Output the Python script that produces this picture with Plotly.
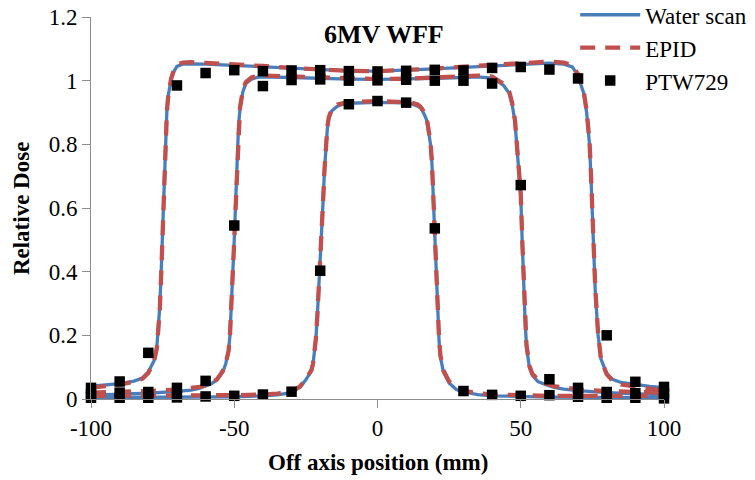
import plotly.graph_objects as go

# ---------------- data ----------------
# Large field (about 150 mm)
large_x = [-100, -95, -90, -85, -82, -80, -78, -77, -76, -75.5, -75, -74.5, -74, -73.5, -73, -72, -71, -70,
           -68, -65, -60, -50, -40, -30, -20, -10, 0, 10, 20, 30, 40, 50, 60, 65, 68, 70, 71, 72, 73, 74,
           74.5, 75, 75.5, 76, 77, 78, 80, 82, 85, 90, 95, 100]
large_water = [0.040, 0.043, 0.048, 0.056, 0.066, 0.085, 0.120, 0.165, 0.290, 0.400, 0.520, 0.660, 0.820,
               0.910, 0.955, 1.005, 1.030, 1.045, 1.052, 1.053, 1.052, 1.048, 1.043, 1.038, 1.034, 1.031,
               1.030, 1.033, 1.037, 1.042, 1.047, 1.051, 1.055, 1.052, 1.043, 1.015, 0.990, 0.960, 0.900,
               0.800, 0.700, 0.580, 0.460, 0.340, 0.200, 0.125, 0.080, 0.062, 0.052, 0.045, 0.040, 0.036]
large_epid = [0.036, 0.040, 0.045, 0.054, 0.064, 0.082, 0.118, 0.160, 0.280, 0.390, 0.510, 0.650, 0.810,
              0.905, 0.955, 1.008, 1.035, 1.050, 1.057, 1.058, 1.056, 1.052, 1.046, 1.040, 1.035, 1.031,
              1.030, 1.033, 1.038, 1.044, 1.050, 1.055, 1.060, 1.057, 1.048, 1.020, 0.995, 0.965, 0.905,
              0.810, 0.710, 0.590, 0.470, 0.350, 0.205, 0.125, 0.078, 0.058, 0.046, 0.038, 0.032, 0.028]

# Medium field (about 100 mm)
medium_x = [-100, -90, -80, -70, -65, -62, -60, -58, -56, -54, -53, -52, -51.5, -51, -50.5, -50, -49.5, -49,
            -48.5, -48, -47, -46, -44, -42, -40, -30, -20, -10, 0, 10, 20, 30, 35, 40, 42, 44, 46, 47, 48,
            48.5, 49, 49.5, 50, 50.5, 51, 51.5, 52, 53, 54, 56, 59, 62, 65, 70, 80, 90, 100]
medium_water = [0.012, 0.014, 0.018, 0.024, 0.028, 0.034, 0.040, 0.048, 0.060, 0.085, 0.110, 0.150, 0.200,
                0.280, 0.400, 0.500, 0.620, 0.760, 0.860, 0.910, 0.965, 0.990, 1.005, 1.010, 1.012, 1.010,
                1.007, 1.005, 1.004, 1.005, 1.007, 1.010, 1.012, 1.008, 0.998, 0.985, 0.960, 0.925, 0.870,
                0.810, 0.740, 0.690, 0.640, 0.500, 0.360, 0.250, 0.165, 0.100, 0.075, 0.055, 0.044, 0.036,
                0.031, 0.026, 0.020, 0.016, 0.013]
medium_epid = [0.020, 0.022, 0.025, 0.030, 0.033, 0.038, 0.043, 0.050, 0.062, 0.088, 0.112, 0.150, 0.200,
               0.280, 0.400, 0.500, 0.620, 0.760, 0.860, 0.915, 0.970, 0.995, 1.010, 1.015, 1.016, 1.013,
               1.009, 1.006, 1.005, 1.006, 1.009, 1.013, 1.016, 1.013, 1.003, 0.990, 0.965, 0.930, 0.875,
               0.815, 0.745, 0.695, 0.645, 0.505, 0.365, 0.255, 0.170, 0.105, 0.080, 0.060, 0.048, 0.040,
               0.035, 0.030, 0.025, 0.022, 0.020]

# Small field (about 40 mm)
small_x = [-100, -80, -60, -50, -40, -35, -30, -27, -25, -23, -22.5, -21.5, -21, -20.5, -20, -19.5, -19,
           -18.5, -18, -17.5, -17, -16, -14, -12, -10, 0, 10, 12, 14, 15, 16, 17, 17.5, 18, 18.5, 19, 19.5,
           20, 20.5, 21, 21.5, 22, 23, 25, 27.5, 30, 35, 40, 50, 60, 80, 100]
small_water = [0.004, 0.005, 0.006, 0.007, 0.010, 0.013, 0.020, 0.038, 0.060, 0.090, 0.110, 0.190, 0.260,
               0.340, 0.420, 0.520, 0.620, 0.720, 0.800, 0.850, 0.880, 0.905, 0.920, 0.926, 0.929, 0.932,
               0.930, 0.927, 0.920, 0.915, 0.900, 0.880, 0.860, 0.830, 0.800, 0.740, 0.620, 0.500, 0.380,
               0.250, 0.180, 0.130, 0.085, 0.050, 0.030, 0.022, 0.014, 0.010, 0.007, 0.006, 0.005, 0.004]
small_epid = [0.010, 0.010, 0.011, 0.012, 0.014, 0.017, 0.024, 0.040, 0.062, 0.092, 0.112, 0.190, 0.260,
              0.340, 0.420, 0.520, 0.620, 0.720, 0.800, 0.855, 0.885, 0.910, 0.925, 0.930, 0.933, 0.936,
              0.934, 0.931, 0.925, 0.918, 0.905, 0.885, 0.865, 0.835, 0.805, 0.745, 0.625, 0.505, 0.385,
              0.255, 0.185, 0.135, 0.090, 0.055, 0.034, 0.026, 0.018, 0.014, 0.011, 0.010, 0.010, 0.010]

# PTW729 array measurements (every 10 mm)
ptw_x = [-100, -90, -80, -70, -60, -50, -40, -30, -20, -10, 0, 10, 20, 30, 40, 50, 60, 70, 80, 90, 100]
ptw_large = [0.035, 0.055, 0.145, 0.985, 1.024, 1.033, 1.030, 1.032, 1.033, 1.030, 1.029, 1.031, 1.034,
             1.032, 1.040, 1.043, 1.035, 1.007, 0.200, 0.054, 0.038]
ptw_medium = [0.015, 0.020, 0.022, 0.035, 0.057, 0.545, 0.983, 1.002, 1.004, 1.000, 1.001, 1.003, 1.000,
              1.000, 0.991, 0.672, 0.062, 0.035, 0.022, 0.018, 0.018]
ptw_small = [0.004, 0.004, 0.004, 0.005, 0.008, 0.010, 0.014, 0.023, 0.403, 0.926, 0.936, 0.931, 0.536,
             0.025, 0.013, 0.010, 0.012, 0.007, 0.004, 0.004, 0.002]

x_ticks = [-100, -50, 0, 50, 100]
x_tick_text = ["-100", "-50", "0", "50", "100"]
y_ticks = [0, 0.2, 0.4, 0.6, 0.8, 1.0, 1.2]
y_tick_text = ["0", "0.2", "0.4", "0.6", "0.8", "1", "1.2"]

# ---------------- styling ----------------
BLUE = "#4A7EBB"
RED = "#C0504D"
FONT = "Liberation Serif, Times New Roman, serif"
AXIS_GREY = "#8C8C8C"

fig = go.Figure()

fields = [(large_x, large_water, large_epid), (medium_x, medium_water, medium_epid),
          (small_x, small_water, small_epid)]

for i, (fx, fw, fe) in enumerate(fields):
    fig.add_trace(go.Scatter(x=fx, y=fw, mode="lines", name="Water scan",
                             line=dict(color=BLUE, width=3.3), showlegend=(i == 0),
                             cliponaxis=False))
for i, (fx, fw, fe) in enumerate(fields):
    fig.add_trace(go.Scatter(x=fx, y=fe, mode="lines", name="EPID",
                             line=dict(color=RED, width=4.3, dash="15px,10px"), showlegend=(i == 0),
                             cliponaxis=False))
for i, py in enumerate([ptw_large, ptw_medium, ptw_small]):
    fig.add_trace(go.Scatter(x=ptw_x, y=py, mode="markers", name="PTW729",
                             marker=dict(symbol="square", size=10.5, color="black"),
                             showlegend=(i == 0), cliponaxis=False))

fig.update_layout(
    width=755, height=480,
    margin=dict(l=91, r=91, t=17, b=81, autoexpand=False),
    paper_bgcolor="white", plot_bgcolor="white",
    font=dict(family=FONT, size=23, color="black"),
    showlegend=True,
    legend=dict(x=0.845, y=1.062, xanchor="left", yanchor="top",
                bgcolor="rgba(0,0,0,0)", font=dict(family=FONT, size=23, color="black"),
                itemwidth=60, tracegroupgap=0),
    xaxis=dict(range=[-100, 100], tickvals=x_ticks, ticktext=x_tick_text, automargin=False,
               showgrid=False, zeroline=False, showline=True, linecolor=AXIS_GREY, linewidth=1,
               ticks="outside", ticklen=8, tickcolor=AXIS_GREY,
               tickfont=dict(family=FONT, size=23, color="black")),
    yaxis=dict(range=[0, 1.2], tickvals=y_ticks, ticktext=y_tick_text, automargin=False,
               showgrid=False, zeroline=False, showline=True, linecolor=AXIS_GREY, linewidth=1,
               ticks="outside", ticklen=8, tickcolor=AXIS_GREY,
               tickfont=dict(family=FONT, size=23, color="black")),
    annotations=[
        dict(text="<b>6MV WFF</b>", xref="paper", yref="paper", x=0.511, y=0.953,
             xanchor="center", yanchor="middle", showarrow=False,
             font=dict(family=FONT, size=26, color="black")),
        dict(text="<b>Off axis position (mm)</b>", xref="paper", yref="paper", x=0.5, y=-0.165,
             xanchor="center", yanchor="middle", showarrow=False,
             font=dict(family=FONT, size=23, color="black")),
        dict(text="<b>Relative Dose</b>", xref="paper", yref="paper", x=-0.122, y=0.5,
             xanchor="center", yanchor="middle", showarrow=False, textangle=-90,
             font=dict(family=FONT, size=23, color="black")),
    ],
)

fig.write_html("out.html", config={"displayModeBar": False},
               post_script="document.body.style.margin='0px';")
